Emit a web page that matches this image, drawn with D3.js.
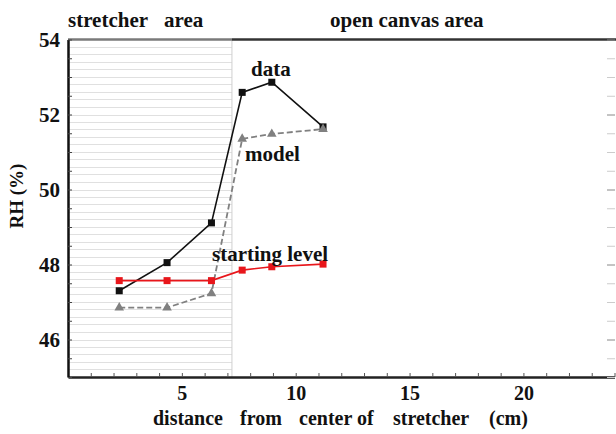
<!DOCTYPE html>
<html><head><meta charset="utf-8">
<script src="https://cdn.jsdelivr.net/npm/d3@7"></script>
<style>
body{margin:0;background:#fff;}
text{font-family:"Liberation Serif","Times New Roman",serif;font-weight:bold;fill:#111;}
</style></head>
<body><svg id="c" width="616" height="434"></svg>
<script>
const distance = [2.25, 4.35, 6.3, 7.65, 8.95, 11.2];
const dataRH = [47.30, 48.05, 49.11, 52.59, 52.86, 51.67];
const modelRH = [46.85, 46.85, 47.23, 51.35, 51.48, 51.61];
const startRH = [47.57, 47.57, 47.57, 47.85, 47.94, 48.01];
const xTickLabels = [5, 10, 15, 20];
const yTickLabels = [46, 48, 50, 52, 54];
const stretcherEdge = 7.2;
const titleWords = ["distance", "from", "center", "of", "stretcher", "(cm)"];
const titleWordX = [153, 240, 299, 357, 393, 489];

const svg = d3.select("#c");
const x = d3.scaleLinear().domain([0, 24]).range([68, 614.5]);
const y = d3.scaleLinear().domain([45, 54]).range([377, 39.5]);

// stretcher area hatching
const gridVals = d3.range(45.2, 53.9, 0.2);
svg.append("g").selectAll("line").data(gridVals).join("line")
  .attr("x1", x(0)).attr("x2", x(stretcherEdge))
  .attr("y1", d => Math.round(y(d)) + 0.5).attr("y2", d => Math.round(y(d)) + 0.5)
  .attr("stroke", "#e0e0e0").attr("stroke-width", 1);
svg.append("line").attr("x1", x(stretcherEdge)).attr("x2", x(stretcherEdge))
  .attr("y1", y(54)).attr("y2", y(45)).attr("stroke", "#cfcfcf").attr("stroke-width", 1);

// top frame
svg.append("line").attr("x1", x(0)).attr("x2", x(stretcherEdge)).attr("y1", y(54)).attr("y2", y(54))
  .attr("stroke", "#7a7a7a").attr("stroke-width", 2.5);
svg.append("line").attr("x1", x(stretcherEdge)).attr("x2", 616).attr("y1", y(54)).attr("y2", y(54))
  .attr("stroke", "#333").attr("stroke-width", 2.5);

// bottom axis
const xAxis = d3.axisBottom(x).tickValues(d3.range(0, 25, 1)).tickSizeInner(-4).tickSizeOuter(0)
  .tickFormat(d => xTickLabels.includes(d) ? d : "");
const gx = svg.append("g").attr("transform", `translate(0,${y(45)})`).call(xAxis);
gx.select(".domain").attr("stroke", "#222").attr("stroke-width", 2.5);
gx.selectAll(".tick line").attr("stroke", "#555");
gx.selectAll(".tick text").attr("font-size", 20).attr("dy", 0).attr("y", 23).attr("font-family", null);

// left axis
const yAxis = d3.axisLeft(y).tickValues(d3.range(45, 54.01, 0.5)).tickSizeInner(-4).tickSizeOuter(0)
  .tickFormat(d => yTickLabels.includes(d) ? d : "");
const gy = svg.append("g").attr("transform", `translate(${x(0)},0)`).call(yAxis);
gy.select(".domain").attr("stroke", "#111").attr("stroke-width", 2.5);
gy.selectAll(".tick line").attr("stroke", "#444");
gy.selectAll(".tick text").attr("font-size", 21).attr("x", -8).attr("font-family", null);

// right axis (faint)
const yAxisR = d3.axisRight(y).tickValues(d3.range(45, 54.01, 0.5)).tickSizeInner(-8).tickSizeOuter(0).tickFormat("");
const gr = svg.append("g").attr("transform", `translate(615,0)`).call(yAxisR);
gr.select(".domain").attr("stroke", "none");
gr.selectAll(".tick line").attr("stroke", d => yTickLabels.includes(d) ? "#888" : "#ccc");

// lines
const line = vals => d3.line().x((d, i) => x(distance[i])).y(d => y(d))(vals);
svg.append("path").attr("d", line(modelRH)).attr("fill", "none").attr("stroke", "#808080")
  .attr("stroke-width", 1.8).attr("stroke-dasharray", "6,3");
svg.append("path").attr("d", line(dataRH)).attr("fill", "none").attr("stroke", "#111").attr("stroke-width", 1.6);
svg.append("path").attr("d", line(startRH)).attr("fill", "none").attr("stroke", "#e8161b").attr("stroke-width", 1.6);

// markers
const sq = 7;
svg.append("g").selectAll("rect").data(dataRH).join("rect")
  .attr("x", (d, i) => x(distance[i]) - sq / 2).attr("y", d => y(d) - sq / 2)
  .attr("width", sq).attr("height", sq).attr("fill", "#111");
svg.append("g").selectAll("rect").data(startRH).join("rect")
  .attr("x", (d, i) => x(distance[i]) - sq / 2).attr("y", d => y(d) - sq / 2)
  .attr("width", sq).attr("height", sq).attr("fill", "#e8161b");
const tri = d3.symbol().type(d3.symbolTriangle).size(40);
svg.append("g").selectAll("path").data(modelRH).join("path")
  .attr("d", tri).attr("transform", (d, i) => `translate(${x(distance[i])},${y(d)})`)
  .attr("fill", "#808080");

// annotations
svg.append("text").attr("x", 251).attr("y", 76).attr("font-size", 21).text("data");
svg.append("text").attr("x", 245).attr("y", 161).attr("font-size", 21).text("model");
svg.append("text").attr("x", 212).attr("y", 261).attr("font-size", 21).text("starting level");

// header
svg.append("text").attr("x", 68).attr("y", 27).attr("font-size", 21).text("stretcher");
svg.append("text").attr("x", 164).attr("y", 27).attr("font-size", 21).text("area");
svg.append("text").attr("x", 330).attr("y", 27).attr("font-size", 21).text("open canvas area");

// axis titles
svg.append("g").selectAll("text").data(titleWords).join("text")
  .attr("x", (d, i) => titleWordX[i]).attr("y", 425).attr("font-size", 20).text(d => d);
svg.append("text").attr("transform", "translate(23,196) rotate(-90)").attr("text-anchor", "middle")
  .attr("font-size", 19).text("RH (%)");
</script></body></html>
